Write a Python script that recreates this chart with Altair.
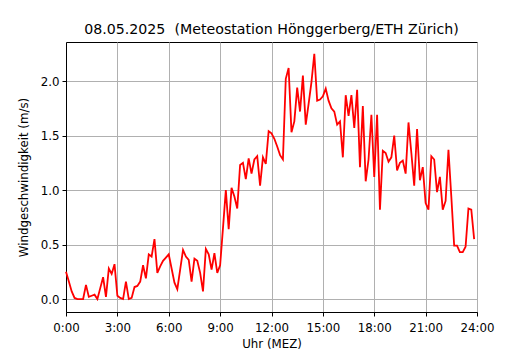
import altair as alt
import pandas as pd

# wind speed, 10-minute values from 0:00 to 23:50 (m/s)
speed = [
    0.25, 0.16, 0.07, 0.01, 0.0, 0.0, 0.0, 0.13, 0.02, 0.03, 0.04, 0.0,
    0.10, 0.20, 0.02, 0.28, 0.23, 0.32, 0.03, 0.01, 0.0, 0.16, 0.0, 0.01,
    0.11, 0.12, 0.16, 0.31, 0.19, 0.41, 0.39, 0.55, 0.24, 0.30, 0.35, 0.38,
    0.41, 0.28, 0.15, 0.09, 0.27, 0.45, 0.39, 0.36, 0.16, 0.37, 0.35, 0.24,
    0.07, 0.46, 0.41, 0.27, 0.42, 0.24, 0.31, 0.65, 1.00, 0.64, 1.02, 0.94,
    0.83, 1.23, 1.25, 1.10, 1.29, 1.15, 1.28, 1.31, 1.04, 1.30, 1.24, 1.54,
    1.52, 1.47, 1.40, 1.32, 1.28, 2.02, 2.12, 1.53, 1.63, 1.94, 1.72, 2.05,
    1.60, 1.79, 1.99, 2.25, 1.82, 1.83, 1.86, 1.93, 1.82, 1.75, 1.72, 1.60,
    1.63, 1.30, 1.87, 1.68, 1.87, 1.57, 1.92, 1.21, 1.77, 1.08, 1.28, 1.69,
    1.12, 1.69, 0.82, 1.36, 1.34, 1.26, 1.30, 1.50, 1.18, 1.25, 1.27, 1.15,
    1.62, 1.34, 1.04, 1.56, 1.09, 1.21, 0.88, 0.82, 1.31, 1.28, 0.98, 1.12,
    0.82, 0.90, 1.37, 0.94, 0.49, 0.49, 0.43, 0.43, 0.48, 0.83, 0.82, 0.55,
]
hours = [i / 6 for i in range(len(speed))]
x_ticks = [0, 3, 6, 9, 12, 15, 18, 21, 24]
y_ticks = [0.0, 0.5, 1.0, 1.5, 2.0]

df = pd.DataFrame({"h": hours, "v": speed})

font = "DejaVu Sans"

chart = alt.Chart(df).mark_line(color="#ff0000", strokeWidth=1.8).encode(
    x=alt.X("h:Q", scale=alt.Scale(domain=[0, 24], nice=False, zero=False),
            axis=alt.Axis(values=x_ticks, labelExpr="floor(datum.value) + ':00'",
                          labelFlush=False, labelPadding=6,
                          title="Uhr (MEZ)", titlePadding=5)),
    y=alt.Y("v:Q", scale=alt.Scale(domain=[-0.119, 2.358], nice=False, zero=False),
            axis=alt.Axis(values=y_ticks, format=".1f", labelFlush=False,
                          title="Windgeschwindigkeit (m/s)", titlePadding=11)),
).properties(
    width=411,
    height=270,
    background="white",
    title=alt.TitleParams("08.05.2025\u00a0 (Meteostation Hönggerberg/ETH Zürich)",
                          fontSize=14.2, font=font, fontWeight="normal",
                          color="black", offset=5),
    autosize=alt.AutoSizeParams(type="none"),
    padding={"left": 58, "top": 34, "right": 45, "bottom": 40},
).configure_view(
    stroke="black", strokeWidth=1
).configure_axis(
    labelFont=font, titleFont=font, labelFontSize=11.8, titleFontSize=11.8,
    labelColor="black", titleColor="black", titleFontWeight="normal",
    domainColor="black", domainWidth=1, tickColor="black", tickSize=4,
    tickWidth=1, labelPadding=3, grid=True, gridColor="#b0b0b0", gridWidth=1,
)

chart.save("out.html", embed_options={"renderer": "svg", "actions": False})
